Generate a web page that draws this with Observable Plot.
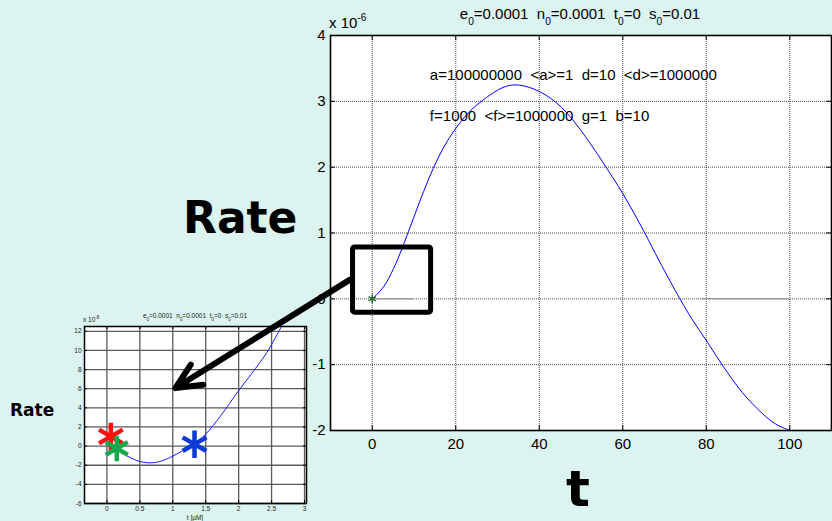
<!DOCTYPE html>
<html>
<head>
<meta charset="utf-8">
<script src="https://cdn.jsdelivr.net/npm/d3@7"></script>
<script src="https://cdn.jsdelivr.net/npm/@observablehq/plot@0.6"></script>
<style>
  html, body { margin: 0; padding: 0; background: #dbf4ef; }
  #wrap { position: relative; width: 832px; height: 521px; overflow: hidden; }
  #wrap svg { position: absolute; left: 0; top: 0; }
  #wrap svg text { white-space: pre; }
</style>
</head>
<body>
<div id="wrap"></div>
<script>
// ---- Long run: rate (×10^-6) against time t ----
const tMain    = [0, 2.7, 5.1, 7.1, 8.3, 9.9, 12.3, 14.6, 17.0, 19.8, 23.4, 27.4, 31.3, 34.1, 37.7, 41.7, 45.3, 48.0, 52.0, 56.0, 60.0, 65.2, 68.7, 73.7, 76.5, 80.3, 84.0, 88.6, 93.4, 96.6, 100];
const rateMain = [0, 0.18, 0.46, 0.76, 0.96, 1.23, 1.63, 1.98, 2.29, 2.57, 2.85, 3.06, 3.21, 3.25, 3.21, 3.09, 2.91, 2.72, 2.38, 2.0, 1.60, 1.01, 0.58, 0.0, -0.30, -0.66, -1.02, -1.42, -1.74, -1.90, -2.0];
const mainXTicks = [0, 20, 40, 60, 80, 100];
const mainYTicks = [-2, -1, 0, 1, 2, 3, 4];
// flat reference trace along zero
const zeroStart = [0, 79];
const zeroEnd   = [10, 100];
// zoom box around the start of the run
const boxT    = [-4.6, 14.1];
const boxRate = [-0.21, 0.78];

// ---- Early run: rate (×10^-8) against t [µM] ----
const tInset    = [0.16, 0.3, 0.4, 0.5, 0.63, 0.8, 1.0, 1.15, 1.33, 1.5, 1.72, 2.0, 2.2, 2.43, 2.65];
const rateInset = [-0.4, -1.0, -1.35, -1.6, -1.75, -1.62, -1.05, -0.48, 0.2, 1.25, 3.1, 5.8, 7.6, 9.8, 12.5];
const insetXTicks = [0, 0.5, 1, 1.5, 2, 2.5, 3];
const insetYTicks = [-6, -4, -2, 0, 2, 4, 6, 8, 10, 12];
const starT     = [0.06, 0.15, 1.33];
const starRate  = [1.0, -0.25, 0.2];
const starColor = ["#ff1010", "#16a84c", "#0b3ad6"];
const starSize  = [13, 12, 13];
// pointer from the zoom box to the early-run panel (panel coordinates)
const arrowT    = [3.69, 1.04];
const arrowRate = [17.4, 6.07];

// ---- Labels ----
const runNames  = ["e", "n", "t", "s"];
const runValues = ["0.0001", "0.0001", "0", "0.01"];
const paramLines = ["a=100000000  <a>=1  d=10  <d>=1000000", "f=1000  <f>=1000000  g=1  b=10"];
const paramT = [13.8, 13.8];
const paramRate = [3.39, 2.78];

const FONT = "'Liberation Sans', Arial, Helvetica, sans-serif";
const BOLD = "'DejaVu Sans', Verdana, sans-serif";
const wrap = document.getElementById("wrap");

const mainData = tMain.map((t, i) => ({t, r: rateMain[i]}));
const zeroData = zeroStart.map((s, i) => ({s, e: zeroEnd[i]}));
const paramData = paramLines.map((text, i) => ({text, t: paramT[i], r: paramRate[i]}));

const MW = 832, MH = 521, ML = 330, MR = 1, MT = 35, MB = 91;
const mainPW = MW - ML - MR, mainPH = MH - MT - MB;
const GRID = "#4a4a4a";

const main = Plot.plot({
  width: MW, height: MH,
  marginLeft: ML, marginRight: MR, marginTop: MT, marginBottom: MB,
  style: {background: "transparent", fontFamily: FONT, fontSize: "15px", color: "#000"},
  x: {domain: [-10, 110], ticks: mainXTicks, tickSize: 0, tickPadding: 8, label: null, tickFormat: d => String(d)},
  y: {domain: [-2, 4], ticks: mainYTicks, tickSize: 0, tickPadding: 5, label: null, tickFormat: d => String(d)},
  marks: [
    Plot.frame({fill: "white", stroke: null}),
    Plot.ruleX(mainXTicks, {x: d => d, stroke: GRID, strokeDasharray: "1,1", strokeWidth: 1}),
    Plot.ruleY(mainYTicks, {y: d => d, stroke: GRID, strokeDasharray: "1,1", strokeWidth: 1}),
    Plot.ruleY(zeroData, {y: 0, x1: "s", x2: "e", stroke: "#a0a0a0", strokeWidth: 1.5}),
    Plot.line(mainData, {x: "t", y: "r", stroke: "#0000ff", strokeWidth: 1, curve: "catmull-rom"}),
    Plot.dot([0], {x: 0, y: 0, symbol: "asterisk", r: 4, stroke: "#2b6b2b", strokeWidth: 1.5}),
    Plot.text(paramData, {x: "t", y: "r", text: "text", textAnchor: "start", fill: "#000", fontSize: 15}),
    Plot.rect([0], {x1: () => boxT[0], x2: () => boxT[1], y1: () => boxRate[0], y2: () => boxRate[1],
      fill: "none", stroke: "#000", strokeWidth: 5, rx: 2}),
    // inward tick marks on all four sides
    Plot.ruleX(mainXTicks, {x: d => d, insetBottom: mainPH - 5, stroke: "#000"}),
    Plot.ruleX(mainXTicks, {x: d => d, insetTop: mainPH - 5, stroke: "#000"}),
    Plot.ruleY(mainYTicks, {y: d => d, insetRight: mainPW - 5, stroke: "#000"}),
    Plot.ruleY(mainYTicks, {y: d => d, insetLeft: mainPW - 5, stroke: "#000"}),
    Plot.frame({stroke: "#000", strokeWidth: 1.6})
  ]
});
wrap.appendChild(main);

const insetData = tInset.map((t, i) => ({t, r: rateInset[i]}));
const starData = starT.map((t, i) => ({t, r: starRate[i], c: starColor[i], s: starSize[i]}));

const IL = 84, IR = 832 - 306, IT = 326, IB = 521 - 503;
const insPW = MW - IL - IR, insPH = MH - IT - IB;

const inset = Plot.plot({
  width: MW, height: MH,
  marginLeft: IL, marginRight: IR, marginTop: IT, marginBottom: IB,
  style: {background: "transparent", fontFamily: FONT, fontSize: "6.5px", color: "#222"},
  x: {domain: [-0.34, 3.03], ticks: insetXTicks, tickSize: 0, tickPadding: 3, label: null, tickFormat: d => String(d)},
  y: {domain: [-6, 12.5], ticks: insetYTicks, tickSize: 0, tickPadding: 3, label: null, tickFormat: d => String(d)},
  r: {type: "identity"},
  marks: [
    Plot.frame({fill: "white", stroke: null}),
    Plot.ruleX(insetXTicks, {x: d => d, stroke: "#5a5a5a", strokeWidth: 1.3}),
    Plot.ruleY(insetYTicks, {y: d => d, stroke: "#5a5a5a", strokeWidth: 1.3}),
    Plot.line(insetData, {x: "t", y: "r", stroke: "#1a1aff", strokeWidth: 1, curve: "catmull-rom"}),
    Plot.dot(starData, {x: "t", y: "r", r: "s", stroke: "c", fill: "none", symbol: "asterisk", strokeWidth: 4.5, strokeLinecap: "butt"}),
    Plot.ruleX(insetXTicks, {x: d => d, insetBottom: insPH - 3, stroke: "#000"}),
    Plot.ruleX(insetXTicks, {x: d => d, insetTop: insPH - 3, stroke: "#000"}),
    Plot.ruleY(insetYTicks, {y: d => d, insetRight: insPW - 3, stroke: "#000"}),
    Plot.ruleY(insetYTicks, {y: d => d, insetLeft: insPW - 3, stroke: "#000"}),
    Plot.frame({stroke: "#000", strokeWidth: 1.5}),
    Plot.arrow([0], {x1: () => arrowT[0], y1: () => arrowRate[0], x2: () => arrowT[1], y2: () => arrowRate[1],
      stroke: "#000", strokeWidth: 6, headLength: 7, headAngle: 50})
  ]
});
inset.style.pointerEvents = "none";
wrap.appendChild(inset);

// rich text (sub/superscripts) drawn into the panels
function richText(svg, x, y, parts, size, anchor, family, weight, fill) {
  const t = d3.select(svg).append("text")
    .attr("x", x).attr("y", y)
    .attr("text-anchor", anchor || "start")
    .attr("font-family", family || FONT)
    .attr("font-size", size)
    .attr("font-weight", weight || "normal")
    .attr("fill", fill || "#000");
  let shift = 0;
  for (const [str, kind] of parts) {
    const target = kind === "sub" ? size * 0.4 : kind === "sup" ? -size * 0.5 : 0;
    t.append("tspan")
      .attr("dy", target - shift)
      .attr("font-size", kind ? size * 0.68 : size)
      .text(str);
    shift = target;
  }
  return t;
}
function runTitle() {
  const parts = [];
  runNames.forEach((n, i) => {
    parts.push([(i ? "  " : "") + n, ""]);
    parts.push(["0", "sub"]);
    parts.push(["=" + runValues[i], ""]);
  });
  return parts;
}

// main panel annotations
richText(main, 580, 19, runTitle(), 15, "middle");
richText(main, 329, 28, [["x 10", ""], ["-6", "sup"]], 15, "start");
richText(main, 183, 233, [["Rate", ""]], 44, "start", BOLD, "bold");
richText(main, 578, 506, [["t", ""]], 50, "middle", BOLD, "bold");

// early-run panel annotations (kept under the arrow)
const arrowG = inset.querySelector("g[aria-label='arrow']");
richText(inset, 195, 318, runTitle(), 6.5, "middle", FONT, "normal", "#222");
richText(inset, 83, 322, [["x 10", ""], ["-8", "sup"]], 6.5, "start", FONT, "normal", "#222");
richText(inset, 195, 520, [["t [\u00b5M]", ""]], 6.5, "middle", FONT, "normal", "#222");
richText(inset, 10, 416, [["Rate", ""]], 17, "start", BOLD, "bold");
if (arrowG) inset.appendChild(arrowG);
</script>
</body>
</html>
